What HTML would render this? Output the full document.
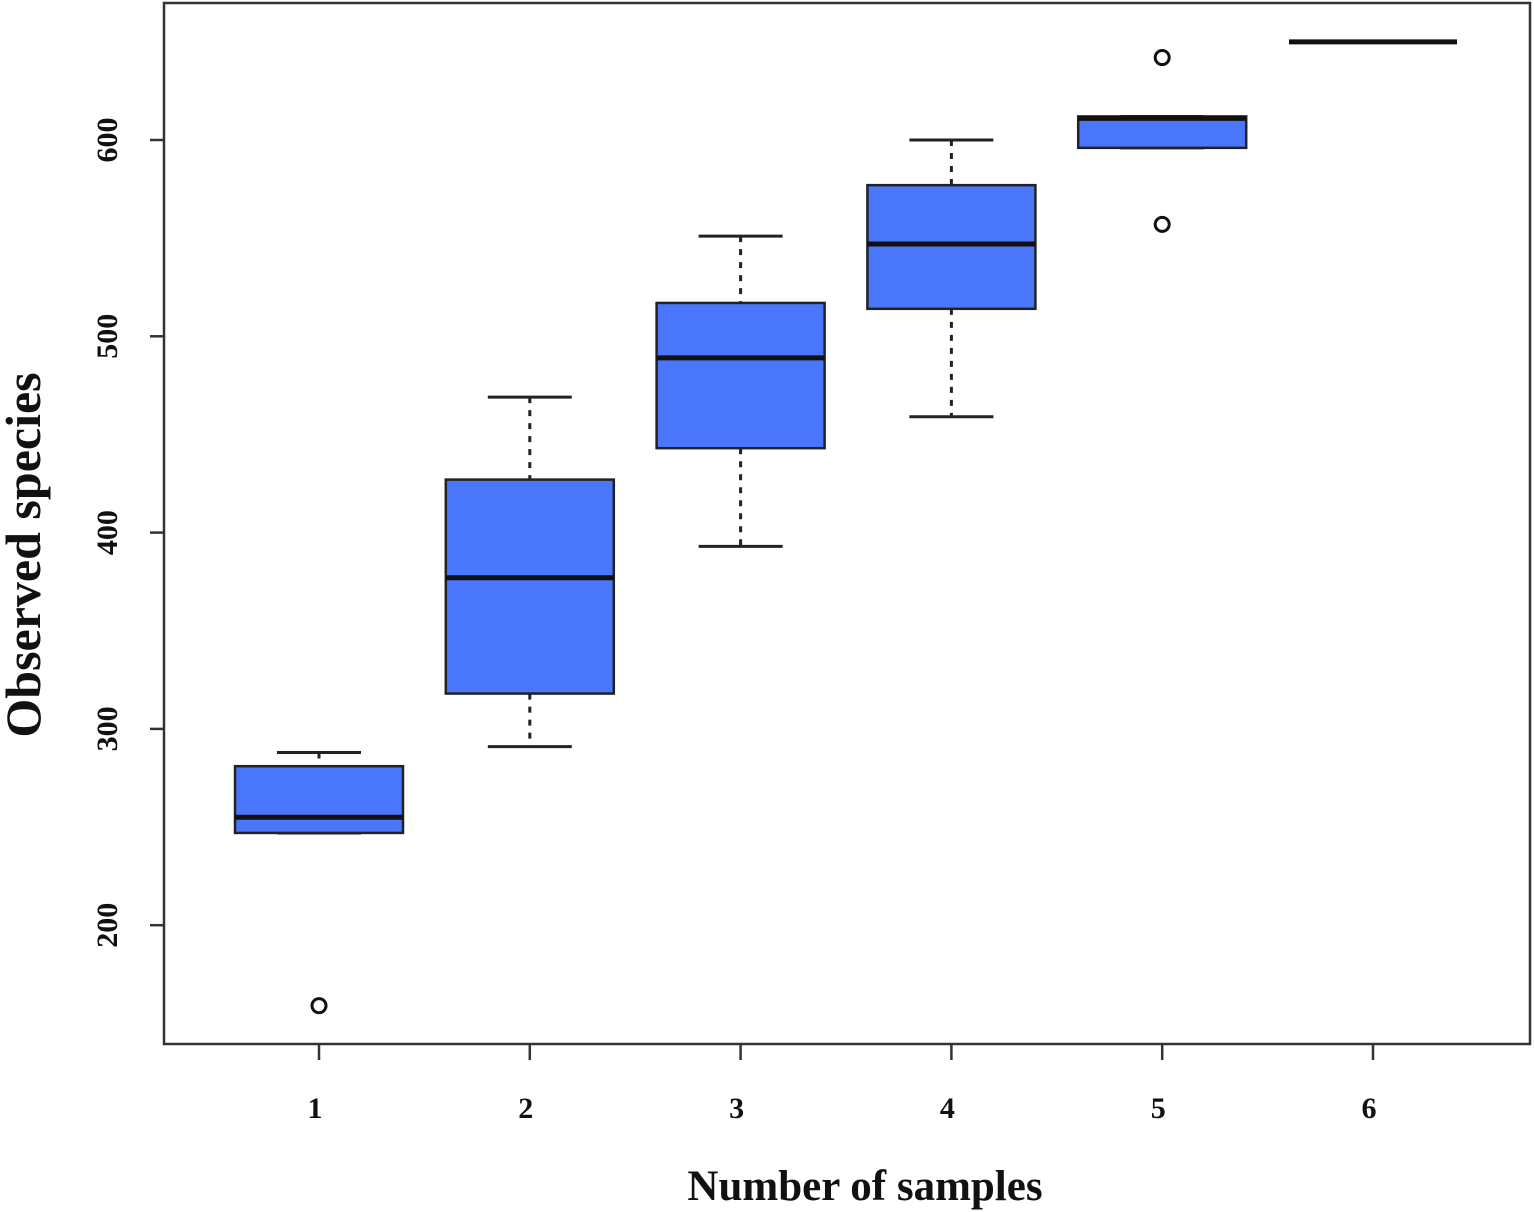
<!DOCTYPE html>
<html><head><meta charset="utf-8"><style>
html,body{margin:0;padding:0;background:#fff;}
svg{display:block;font-family:"Liberation Serif",serif;}
</style></head><body>
<svg id="chart" width="1535" height="1212" viewBox="0 0 1535 1212" xmlns="http://www.w3.org/2000/svg">
<rect x="164" y="3" width="1366" height="1041" fill="none" stroke="#333" stroke-width="2.5"/>
<g id="yaxis"></g>
<g id="xaxis"></g>
<g id="boxes"></g>
<text x="865" y="1200" text-anchor="middle" font-size="43" font-weight="bold" fill="#111">Number of samples</text>
<text transform="translate(40,555) rotate(-90)" text-anchor="middle" font-size="50" font-weight="bold" fill="#111">Observed species</text>
</svg>
<script>
const categories = ["1","2","3","4","5","6"];
const whiskerHigh = [288, 469, 551, 600, 612, 650];
const q3Values = [281, 427, 517, 577, 612, 650];
const medians = [255, 377, 489, 547, 611, 650];
const q1Values = [247, 318, 443, 514, 596, 650];
const whiskerLow = [247, 291, 393, 459, 596, 650];
const outlierGroups = [0, 4, 4];
const outlierValues = [159, 642, 557];
const yTicks = [200, 300, 400, 500, 600];

const NS = "http://www.w3.org/2000/svg";
function y(v){ return 140 + (600 - v) * 1.963; }
function x(i){ return 319 + i * 210.8; }
const HW = 84;
function mk(tag, attrs, parent){
  const el = document.createElementNS(NS, tag);
  for (const k in attrs) el.setAttribute(k, attrs[k]);
  parent.appendChild(el);
  return el;
}
const ya = document.getElementById('yaxis');
yTicks.forEach(t => {
  const l = mk('line', {x1:150, x2:164, y1:y(t), y2:y(t), stroke:'#333', 'stroke-width':2.5}, ya);
  
  
  const tx = mk('text', {transform:`translate(117,${y(t)}) rotate(-90)`, 'text-anchor':'middle', 'font-size':30, 'font-weight':'bold', fill:'#111'}, ya);
  tx.textContent = t;
  
  
});
const xa = document.getElementById('xaxis');
categories.forEach((c, i) => {
  const l = mk('line', {x1:x(i), x2:x(i), y1:1044, y2:1060, stroke:'#333', 'stroke-width':2.5}, xa);
  
  
  const tx = mk('text', {x:x(i)-4, y:1118, 'text-anchor':'middle', 'font-size':30, 'font-weight':'bold', fill:'#111'}, xa);
  tx.textContent = c;
  
  
});
const bx = document.getElementById('boxes');
categories.forEach((c, i) => {
  const g = mk('g', {}, bx);
  
  
  const cx = x(i);
  if (whiskerHigh[i] > q3Values[i]) {
    mk('line', {x1:cx, x2:cx, y1:y(whiskerHigh[i]), y2:y(q3Values[i]), stroke:'#222', 'stroke-width':3, 'stroke-dasharray':'6,7'}, g);
  }
  if (whiskerLow[i] < q1Values[i]) {
    mk('line', {x1:cx, x2:cx, y1:y(q1Values[i]), y2:y(whiskerLow[i]), stroke:'#222', 'stroke-width':3, 'stroke-dasharray':'6,7'}, g);
  }
  mk('line', {x1:cx-42, x2:cx+42, y1:y(whiskerHigh[i]), y2:y(whiskerHigh[i]), stroke:'#222', 'stroke-width':3}, g);
  mk('line', {x1:cx-42, x2:cx+42, y1:y(whiskerLow[i]), y2:y(whiskerLow[i]), stroke:'#222', 'stroke-width':3}, g);
  const h = y(q1Values[i]) - y(q3Values[i]);
  if (h > 0.5) {
    mk('rect', {x:cx-HW, y:y(q3Values[i]), width:HW*2, height:h, fill:'#4a76fb', stroke:'#222', 'stroke-width':2.5}, g);
  }
  mk('line', {x1:cx-HW, x2:cx+HW, y1:y(medians[i]), y2:y(medians[i]), stroke:'#111', 'stroke-width':5}, g);
});
outlierValues.forEach((v, k) => {
  const c = mk('circle', {cx:x(outlierGroups[k]), cy:y(v), r:7, fill:'none', stroke:'#111', 'stroke-width':3}, bx);
  
  
});
</script>
</body></html>
